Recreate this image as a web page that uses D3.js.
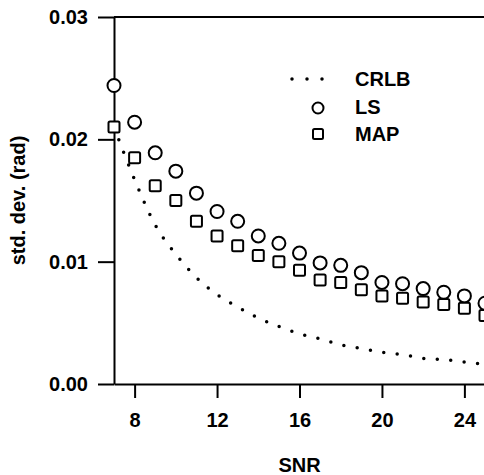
<!DOCTYPE html>
<html>
<head>
<meta charset="utf-8">
<script src="https://cdn.jsdelivr.net/npm/d3@7"></script>
<style>
    html, body { margin: 0; padding: 0; background: #fff; }
    svg { display: block; }
    text { font-family: "Liberation Sans", Arial, sans-serif; font-weight: bold; font-size: 20px; fill: #000; }
    .axis path, .axis line { stroke: #000; stroke-width: 2; }
</style>
</head>
<body>
<svg id="chart" width="484" height="475"></svg>
<script>
// ======== DATA ========
const snr = [7, 8, 9, 10, 11, 12, 13, 14, 15, 16, 17, 18, 19, 20, 21, 22, 23, 24, 25];
const crlb = [0.0210, 0.0167, 0.0130, 0.0106, 0.0087, 0.0073, 0.0063, 0.0054, 0.0047, 0.0041,
              0.0037, 0.0032, 0.0029, 0.0026, 0.0024, 0.0021, 0.0020, 0.0018, 0.0016];
const ls = [0.0244, 0.0214, 0.0189, 0.0174, 0.0156, 0.0141, 0.0133, 0.0121, 0.0115, 0.0107,
            0.0099, 0.0097, 0.0091, 0.0083, 0.0082, 0.0078, 0.0075, 0.0072, 0.0066];
const map = [0.0210, 0.0185, 0.0162, 0.0150, 0.0133, 0.0121, 0.0113, 0.0105, 0.0100, 0.0093,
             0.0085, 0.0083, 0.0077, 0.0072, 0.0070, 0.0067, 0.0065, 0.0062, 0.0056];
const xTicks = [8, 12, 16, 20, 24];
const yTicks = [0, 0.01, 0.02, 0.03];
const legendLabels = ['CRLB', 'LS', 'MAP'];

const svg = d3.select('#chart');
const M = { left: 114, top: 17, right: 485, bottom: 384 };

const x = d3.scaleLinear().domain([7, 25]).range([M.left, M.right]);
const y = d3.scaleLinear().domain([0, 0.03]).range([M.bottom, M.top]);

// ----- AXES -----
svg.append('g')
    .attr('class', 'axis')
    .attr('transform', `translate(${M.left},0)`)
    .call(d3.axisLeft(y).tickValues(yTicks).tickFormat(d3.format('.2f'))
        .tickSize(16).tickSizeOuter(0).tickPadding(10));

svg.append('g')
    .attr('class', 'axis')
    .attr('transform', `translate(0,${M.bottom})`)
    .call(d3.axisBottom(x).tickValues(xTicks).tickSize(14).tickSizeOuter(0).tickPadding(15));

svg.selectAll('.axis').attr('font-size', null).attr('font-family', null);
svg.selectAll('.axis text').attr('fill', null);

// top frame line
svg.append('line')
    .attr('x1', M.left).attr('x2', 484)
    .attr('y1', y(0.03)).attr('y2', y(0.03))
    .attr('stroke', '#000').attr('stroke-width', 2);

// axis titles
svg.append('text')
    .attr('transform', `translate(25,${(M.top + M.bottom) / 2}) rotate(-90)`)
    .attr('text-anchor', 'middle')
    .text('std. dev. (rad)');

svg.append('text')
    .attr('x', (M.left + M.right) / 2)
    .attr('y', 472)
    .attr('text-anchor', 'middle')
    .text('SNR');

// ----- SERIES -----
const pts = snr.map((s, i) => ({ s, crlb: crlb[i], ls: ls[i], map: map[i] }));

svg.append('path')
    .datum(pts)
    .attr('fill', 'none')
    .attr('stroke', '#000')
    .attr('stroke-width', 3.5)
    .attr('stroke-linecap', 'round')
    .attr('stroke-dasharray', '0 13.5')
    .attr('d', d3.line().x(d => x(d.s)).y(d => y(d.crlb)).curve(d3.curveMonotoneX));

svg.append('g').selectAll('circle')
    .data(pts)
    .join('circle')
    .attr('cx', d => x(d.s))
    .attr('cy', d => y(d.ls))
    .attr('r', 6.5)
    .attr('fill', '#fff')
    .attr('stroke', '#000')
    .attr('stroke-width', 2);

const SQ = 11;
svg.append('g').selectAll('rect')
    .data(pts)
    .join('rect')
    .attr('x', d => x(d.s) - SQ / 2)
    .attr('y', d => y(d.map) - SQ / 2)
    .attr('width', SQ).attr('height', SQ)
    .attr('rx', 1.5)
    .attr('fill', '#fff')
    .attr('stroke', '#000')
    .attr('stroke-width', 2);

// ----- LEGEND -----
const lg = svg.append('g').attr('transform', 'translate(292,79)');
lg.append('line')
    .attr('x1', 0).attr('x2', 45).attr('y1', 0).attr('y2', 0)
    .attr('stroke', '#000').attr('stroke-width', 3.5)
    .attr('stroke-linecap', 'round').attr('stroke-dasharray', '0 15');
lg.append('circle')
    .attr('cx', 26).attr('cy', 29).attr('r', 5.5)
    .attr('fill', '#fff').attr('stroke', '#000').attr('stroke-width', 2);
lg.append('rect')
    .attr('x', 21).attr('y', 50).attr('width', 10).attr('height', 10).attr('rx', 1.5)
    .attr('fill', '#fff').attr('stroke', '#000').attr('stroke-width', 2);
lg.selectAll('text.lbl')
    .data(legendLabels)
    .join('text')
    .attr('class', 'lbl')
    .attr('x', 63)
    .attr('y', (d, i) => 7 + i * 27.5)
    .text(d => d);
</script>
</body>
</html>
